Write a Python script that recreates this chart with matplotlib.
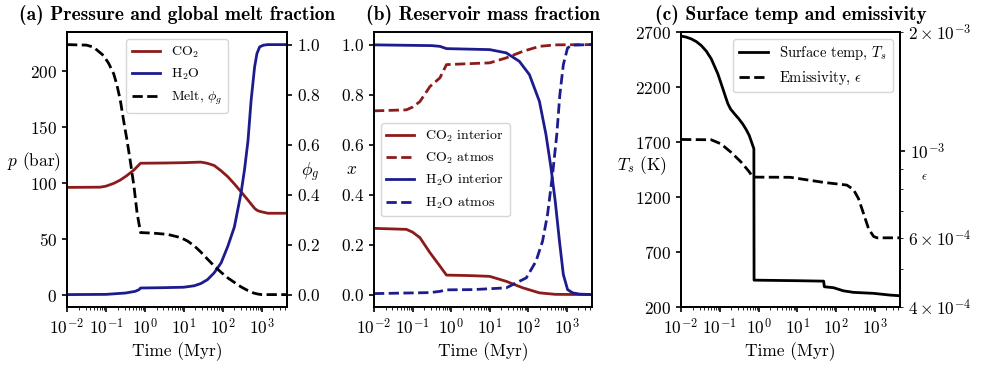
import numpy as np
import matplotlib
matplotlib.use("Agg")
import matplotlib.pyplot as plt
from matplotlib.ticker import LogLocator, NullFormatter

plt.rcParams['font.family'] = 'cmr10'
plt.rcParams['mathtext.fontset'] = 'cm'
plt.rcParams['axes.formatter.use_mathtext'] = True
plt.rcParams['font.size'] = 12.5
plt.rcParams['axes.linewidth'] = 1.4
plt.rcParams['xtick.major.width'] = 1.2
plt.rcParams['ytick.major.width'] = 1.2

RED = '#8c1c1c'
BLUE = '#1c1c8e'

# (a) pressure (bar) and melt fraction, time given as log10(Myr)
a_co2_logt = [-2, -1.15, -1.0, -0.80, -0.63, -0.46, -0.28, -0.11, 0.5, 1.0, 1.44, 1.6,
              1.78, 1.95, 2.13, 2.3, 2.47, 2.65, 2.82, 2.88, 2.95, 3.16, 3.65]
a_co2 = [96.4, 96.6, 97.5, 100, 103, 107, 112, 118, 118.2, 118.5, 119, 118,
         116, 111.5, 106, 99.5, 92.6, 85, 77.7, 76, 75, 73.3, 73.3]

a_h2o_logt = [-2, -1.0, -0.5, -0.25, -0.15, -0.11, 0.5, 1.0, 1.27, 1.44, 1.61, 1.78, 1.96,
              2.13, 2.30, 2.47, 2.56, 2.65, 2.73, 2.82, 2.88, 2.95, 3.05, 3.16, 3.65]
a_h2o = [0.6, 0.8, 2, 3.5, 5, 6.5, 6.8, 7.2, 8.5, 10.5, 14, 20, 29,
         43.6, 61, 91, 112, 138, 174, 204, 216, 222, 223.5, 224, 224]

a_melt_logt = [-2, -1.5, -1.32, -1.06, -0.93, -0.80, -0.72, -0.63, -0.55, -0.46, -0.37,
               -0.28, -0.2, -0.11, 0.2, 0.58, 0.92, 1.1, 1.27, 1.44, 1.61, 1.78, 1.96,
               2.13, 2.30, 2.47, 2.65, 2.8, 2.91, 3.0, 3.65]
a_melt = [1.0, 0.998, 0.99, 0.956, 0.925, 0.883, 0.84, 0.777, 0.70, 0.619, 0.53,
          0.433, 0.327, 0.248, 0.246, 0.241, 0.228, 0.214, 0.195, 0.17, 0.142, 0.115, 0.089,
          0.067, 0.049, 0.031, 0.016, 0.006, 0.002, 0.0, 0.0]

# (b) reservoir mass fractions
b_co2_int_logt = [-2, -1.16, -1.0, -0.81, -0.55, -0.29, -0.12, 0.5, 1.0, 1.43, 1.86,
                  2.29, 2.7, 3.65]
b_co2_int = [0.265, 0.261, 0.25, 0.228, 0.168, 0.114, 0.078, 0.076, 0.073, 0.053, 0.027,
             0.007, 0.001, 0.0]

b_co2_atm_logt = [-2, -1.16, -1.0, -0.81, -0.55, -0.29, -0.12, 0.5, 1.0, 1.43, 1.86,
                  2.29, 2.7, 3.65]
b_co2_atm = [0.735, 0.739, 0.75, 0.772, 0.832, 0.867, 0.92, 0.924, 0.927, 0.947, 0.973,
             0.993, 0.999, 1.0]

b_h2o_int_logt = [-2, -0.5, -0.29, -0.12, 1.0, 1.43, 1.77, 2.03, 2.29, 2.46, 2.59, 2.70,
                  2.81, 2.91, 3.02, 3.15, 3.33, 3.65]
b_h2o_int = [0.999, 0.996, 0.993, 0.984, 0.98, 0.967, 0.933, 0.88, 0.773, 0.64, 0.507,
             0.373, 0.213, 0.08, 0.02, 0.007, 0.002, 0.0]

b_h2o_atm_logt = [-2, -0.55, -0.29, -0.12, 0.57, 1.43, 1.95, 2.20, 2.37, 2.50, 2.63,
                  2.74, 2.82, 2.91, 3.02, 3.15, 3.65]
b_h2o_atm = [0.004, 0.008, 0.013, 0.019, 0.02, 0.027, 0.067, 0.133, 0.213, 0.32, 0.48,
             0.64, 0.80, 0.92, 0.987, 0.998, 1.0]

# (c) surface temperature (K) and emissivity
c_ts_logt = [-2, -1.87, -1.74, -1.61, -1.48, -1.35, -1.22, -1.05, -0.92, -0.85, -0.79,
             -0.72, -0.62, -0.51, -0.41, -0.32, -0.24, -0.15, -0.12, -0.115, 1.0, 1.68,
             1.70, 1.94, 2.19, 2.45, 2.97, 3.40, 3.65]
c_ts = [2664, 2655, 2639, 2615, 2579, 2528, 2457, 2321, 2185, 2110, 2048,
        2000, 1957, 1912, 1866, 1815, 1761, 1670, 1640, 445, 440, 436,
        385, 376, 348, 334, 325, 309, 303]

c_eps_logt = [-2, -1.22, -0.97, -0.71, -0.45, -0.235, -0.15, 0.82, 1.68, 2.28, 2.45,
              2.58, 2.71, 2.84, 2.97, 3.06, 3.65]
c_eps = [1.067e-3, 1.065e-3, 1.04e-3, 9.9e-4, 9.35e-4, 8.82e-4, 8.56e-4, 8.55e-4, 8.3e-4,
         8.17e-4, 7.96e-4, 7.55e-4, 6.92e-4, 6.33e-4, 6.05e-4, 6.0e-4, 6.0e-4]

t_min, t_max = 1e-2, 4.5e3
lw = 2.0
title_font = dict(fontfamily='cmb10', fontsize=14, pad=9)


def myr(logt):
    return 10.0 ** np.array(logt)


def time_axis(ax):
    ax.set_xscale('log')
    ax.set_xlim(t_min, t_max)
    ax.xaxis.set_major_locator(LogLocator(base=10, numticks=15))
    ax.xaxis.set_minor_locator(LogLocator(base=10, subs=np.arange(2, 10), numticks=15))
    ax.xaxis.set_minor_formatter(NullFormatter())
    ax.set_xlabel('Time (Myr)')


fig = plt.figure(figsize=(9.87, 3.70), dpi=100)
ax_a = fig.add_axes([0.0679, 0.170, 0.2229, 0.7432])
ax_b = fig.add_axes([0.3789, 0.170, 0.2209, 0.7432])
ax_c = fig.add_axes([0.6900, 0.170, 0.2219, 0.7432])

# panel (a)
l1, = ax_a.plot(myr(a_co2_logt), a_co2, color=RED, lw=lw, label='CO$_2$')
l2, = ax_a.plot(myr(a_h2o_logt), a_h2o, color=BLUE, lw=lw, label='H$_2$O')
ax_a.set_yticks([0, 50, 100, 150, 200])
ax_a.set_ylabel('$p$ (bar)', rotation=0, ha='center', va='center')
ax_a.yaxis.set_label_coords(-0.15, 0.53)
ax_a.set_title('(a) Pressure and global melt fraction', **title_font)
ax_a2 = ax_a.twinx()
l3, = ax_a2.plot(myr(a_melt_logt), a_melt, color='k', lw=lw, ls='--', label=r'Melt, $\phi_g$')
ax_a2.set_ylabel(r'$\phi_g$', rotation=0, ha='center', va='center')
ax_a2.yaxis.set_label_coords(1.105, 0.49)
time_axis(ax_a)
ax_a2.legend(handles=[l1, l2, l3], loc='upper center', fontsize=10)

# panel (b)
ax_b.plot(myr(b_co2_int_logt), b_co2_int, color=RED, lw=lw, label='CO$_2$ interior')
ax_b.plot(myr(b_co2_atm_logt), b_co2_atm, color=RED, lw=lw, ls='--', label='CO$_2$ atmos')
ax_b.plot(myr(b_h2o_int_logt), b_h2o_int, color=BLUE, lw=lw, label='H$_2$O interior')
ax_b.plot(myr(b_h2o_atm_logt), b_h2o_atm, color=BLUE, lw=lw, ls='--', label='H$_2$O atmos')
time_axis(ax_b)
ax_b.set_ylabel('$x$', rotation=0, ha='center', va='center')
ax_b.yaxis.set_label_coords(-0.105, 0.5)
ax_b.set_title('(b) Reservoir mass fraction', **title_font)
ax_b.legend(loc='center left', fontsize=10)

# panel (c)
m1, = ax_c.plot(myr(c_ts_logt), c_ts, color='k', lw=lw, label='Surface temp, $T_s$')
ax_c.set_ylim(200, 2700)
ax_c.set_yticks([200, 700, 1200, 1700, 2200, 2700])
ax_c.set_ylabel('$T_s$ (K)', rotation=0, ha='center', va='center')
ax_c.yaxis.set_label_coords(-0.178, 0.516)
ax_c.set_title('(c) Surface temp and emissivity', **title_font)
ax_c2 = ax_c.twinx()
m2, = ax_c2.plot(myr(c_eps_logt), c_eps, color='k', lw=lw, ls='--', label=r'Emissivity, $\epsilon$')
ax_c2.set_yscale('log')
ax_c2.set_ylim(4e-4, 2e-3)
ax_c2.set_ylabel(r'$\epsilon$', rotation=0, ha='center', va='center', fontsize=9)
ax_c2.yaxis.set_label_coords(1.11, 0.473)
time_axis(ax_c)
ax_c2.legend(handles=[m1, m2], loc='upper right', fontsize=10.5)

plt.savefig('out.png', dpi=100)
